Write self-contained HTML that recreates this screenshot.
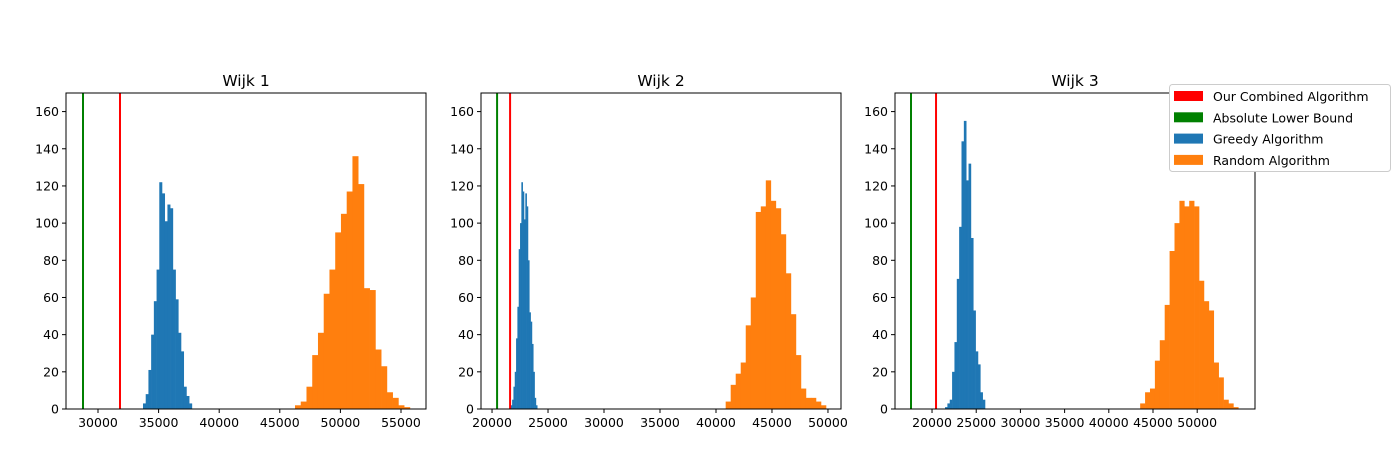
<!DOCTYPE html>
<html><head><meta charset="utf-8"><style>
body{margin:0;background:#fff;}
svg{display:block;font-family:"DejaVu Sans","Liberation Sans",sans-serif;}
</style></head><body>
<svg id="chart" width="1394" height="459" xmlns="http://www.w3.org/2000/svg"></svg>
<script>
const panelTitles = ["Wijk 1","Wijk 2","Wijk 3"];
const greedyCounts1 = [3,8,21,40,58,75,122,116,101,110,108,75,59,41,31,12,7,3];
const randomCounts1 = [2,4,12,29,41,62,75,95,105,117,136,121,65,64,32,23,9,6,2,1];
const greedyCounts2 = [2,5,12,20,38,55,86,100,122,117,102,116,109,80,52,47,35,20,6,2];
const randomCounts2 = [4,13,19,25,45,60,106,109,123,112,108,94,73,51,29,11,6,6,4,2];
const greedyCounts3 = [1,3,5,20,36,70,98,144,155,123,132,92,53,31,24,9,5];
const randomCounts3 = [3,9,11,26,37,56,85,100,112,109,112,109,69,58,53,25,17,5,3,1];
const greedyBinStart = [33713,21675,21472];
const greedyBinWidth = [224,118,266];
const randomBinStart = [46254,40865,43548];
const randomBinWidth = [474,448,555];
const combinedLine = [31815,21612,20453];
const lowerBound = [28763,20451,17622];
const xDomains = [[27360,57063],[19015,51164],[15811,56540]];
const xTicks = [[30000,35000,40000,45000,50000,55000],[20000,25000,30000,35000,40000,45000,50000],[20000,25000,30000,35000,40000,45000,50000]];
const yTicks = [0,20,40,60,80,100,120,140,160];
const greedyAll=[greedyCounts1,greedyCounts2,greedyCounts3];
const randomAll=[randomCounts1,randomCounts2,randomCounts3];
const NS="http://www.w3.org/2000/svg";
const svgEl=document.getElementById('chart');
function mk(tag,attrs,parent){const e=document.createElementNS(NS,tag);for(const k in attrs)e.setAttribute(k,attrs[k]);(parent||svgEl).appendChild(e);return e;}
const lefts=[66,481,895], W=360, axTop=93, axBottom=409, ymax=170;
for(let p=0;p<3;p++){
  const L=lefts[p];
  const g=mk('g',{});
  
  
  const d0=xDomains[p][0], d1=xDomains[p][1];
  const xs=v=>L+(v-d0)/(d1-d0)*W;
  const ys=v=>axBottom-v/ymax*(axBottom-axTop);
  greedyAll[p].forEach((c,i)=>{
    const x0=xs(greedyBinStart[p]+i*greedyBinWidth[p]),x1=xs(greedyBinStart[p]+(i+1)*greedyBinWidth[p]);
    const r=mk('rect',{x:x0,y:ys(c),width:x1-x0+0.3,height:axBottom-ys(c),fill:'#1f77b4'},g);
    
    
  });
  randomAll[p].forEach((c,i)=>{
    const x0=xs(randomBinStart[p]+i*randomBinWidth[p]),x1=xs(randomBinStart[p]+(i+1)*randomBinWidth[p]);
    const r=mk('rect',{x:x0,y:ys(c),width:x1-x0+0.3,height:axBottom-ys(c),fill:'#ff7f0e'},g);
    
    
  });
  const gl=mk('line',{x1:xs(lowerBound[p]),x2:xs(lowerBound[p]),y1:axTop,y2:axBottom,stroke:'#008000','stroke-width':2},g);
  
  
  const rl=mk('line',{x1:xs(combinedLine[p]),x2:xs(combinedLine[p]),y1:axTop,y2:axBottom,stroke:'#ff0000','stroke-width':2},g);
  
  
  const fr=mk('rect',{x:L,y:axTop,width:W,height:axBottom-axTop,fill:'none',stroke:'#000','stroke-width':1},g);
  
  
  xTicks[p].forEach(v=>{
    const x=xs(v);
    mk('line',{x1:x,x2:x,y1:axBottom,y2:axBottom+4,stroke:'#000'},g);
    const t=mk('text',{x:x,y:axBottom+18,'text-anchor':'middle','font-size':12.5},g);
    t.textContent=v;
    
    
  });
  yTicks.forEach(v=>{
    const y=ys(v);
    mk('line',{x1:L-4,x2:L,y1:y,y2:y,stroke:'#000'},g);
    const t=mk('text',{x:L-7,y:y+4.5,'text-anchor':'end','font-size':12.5},g);
    t.textContent=v;
    
    
  });
  const tt=mk('text',{x:L+W/2,y:86,'text-anchor':'middle','font-size':15.5},g);
  tt.textContent=panelTitles[p];
  
  
}
const legendLabels=["Our Combined Algorithm","Absolute Lower Bound","Greedy Algorithm","Random Algorithm"];
const legendColors=["#ff0000","#008000","#1f77b4","#ff7f0e"];
const lg=mk('g',{});


mk('rect',{x:1169.5,y:84.5,width:221,height:87,fill:'#fff',stroke:'#ccc',rx:3},lg);
legendLabels.forEach((s,i)=>{
  const y=96+i*21.3;
  mk('rect',{x:1174,y:y-5,width:29,height:10,fill:legendColors[i]},lg);
  const t=mk('text',{x:1213,y:y+5,'font-size':12.5},lg);
  t.textContent=s;
  
  
});
</script>
</body></html>
